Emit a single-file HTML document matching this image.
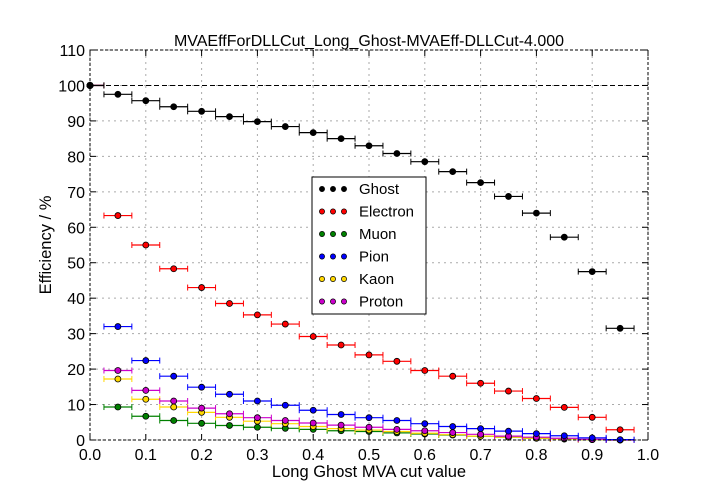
<!DOCTYPE html>
<html><head><meta charset="utf-8"><style>
body{margin:0;background:#fff;}
svg{display:block;font-family:"Liberation Sans","DejaVu Sans",sans-serif;}
</style></head><body>
<svg id="chart" width="720" height="504" viewBox="0 0 720 504" xmlns="http://www.w3.org/2000/svg">
<rect width="720" height="504" fill="#fff"/>
<text x="369" y="46" text-anchor="middle" font-size="16">MVAEffForDLLCut_Long_Ghost-MVAEff-DLLCut-4.000</text>
<text x="369" y="477" text-anchor="middle" font-size="16.5">Long Ghost MVA cut value</text>
<text transform="translate(51,245) rotate(-90)" text-anchor="middle" font-size="16.5">Efficiency / %</text>
<g id="grid"></g>
<g id="ticks"></g>
<g id="series"></g>
<rect x="90" y="50" width="558" height="390" fill="none" stroke="#000" stroke-dasharray="3,2"/>
<g id="legend">
<rect x="312" y="177" width="114" height="137" fill="#fff" stroke="#000"/>
</g>
</svg>
<script>
const xs=[0,0.05,0.1,0.15,0.2,0.25,0.3,0.35,0.4,0.45,0.5,0.55,0.6,0.65,0.7,0.75,0.8,0.85,0.9,0.95];
const ghost=[100,97.5,95.7,94,92.7,91.2,89.8,88.4,86.7,85,83,80.8,78.5,75.7,72.6,68.7,64,57.2,47.5,31.5];
const electron=[100,63.3,55,48.3,43,38.5,35.3,32.7,29.2,26.8,24,22.2,19.6,18,16,13.8,11.7,9.2,6.4,2.9];
const muon=[100,9.3,6.7,5.5,4.7,4.1,3.6,3.3,3.0,2.6,2.4,2.0,1.7,1.4,1.1,0.8,0.5,0.3,0.1,0];
const pion=[100,32,22.4,18,14.9,12.9,11,9.8,8.4,7.2,6.3,5.5,4.6,3.8,3.2,2.5,1.8,1.2,0.6,0.1];
const kaon=[100,17.2,11.5,9.3,7.8,6.4,5.3,4.6,3.8,3.2,2.8,2.4,1.9,1.5,1.1,0.8,0.5,0.3,0.1,0];
const proton=[100,19.6,14,11,9,7.4,6.3,5.5,4.8,4.2,3.6,3.0,2.6,2.1,1.6,1.1,0.8,0.5,0.2,0];
const names=["Ghost","Electron","Muon","Pion","Kaon","Proton"];
const colors=["#000","#f00","#008000","#00f","#ffd700","#c0c"];
const xTicks=[0,0.1,0.2,0.3,0.4,0.5,0.6,0.7,0.8,0.9,1.0];
const yTicks=[0,10,20,30,40,50,60,70,80,90,100,110];
const NS="http://www.w3.org/2000/svg";
const X=v=>90+v*558, Y=v=>440-v*390/110;
function mk(p,t,a){const e=document.createElementNS(NS,t);for(const k in a)e.setAttribute(k,a[k]);p.appendChild(e);return e;}
const grid=document.getElementById('grid'),ticks=document.getElementById('ticks'),ser=document.getElementById('series');
xTicks.forEach(t=>{
 const l=mk(grid,'line',{x1:X(t),x2:X(t),y1:50,y2:440,stroke:'#aaa','stroke-dasharray':'2,4'});
 
 mk(ticks,'line',{x1:X(t),x2:X(t),y1:440,y2:434,stroke:'#000'});
 mk(ticks,'line',{x1:X(t),x2:X(t),y1:50,y2:56,stroke:'#000'});
 const tx=mk(ticks,'text',{x:X(t),y:460,'text-anchor':'middle','font-size':16});
 tx.textContent=t.toFixed(1);
 
});
yTicks.forEach(t=>{
 const l=mk(grid,'line',{x1:90,x2:648,y1:Y(t),y2:Y(t),stroke:'#aaa','stroke-dasharray':'2,4'});
 
 mk(ticks,'line',{x1:90,x2:96,y1:Y(t),y2:Y(t),stroke:'#000'});
 mk(ticks,'line',{x1:642,x2:648,y1:Y(t),y2:Y(t),stroke:'#000'});
 const tx=mk(ticks,'text',{x:85,y:Y(t)+6,'text-anchor':'end','font-size':16});
 tx.textContent=t;
 
});
const ref=mk(grid,'line',{x1:90,x2:648,y1:Y(100),y2:Y(100),stroke:'#000','stroke-dasharray':'5,3'});

const data=[ghost,electron,muon,pion,kaon,proton];
[2,4,5,3,1,0].forEach(si=>{
 const g=mk(ser,'g',{});
 
 
 data[si].forEach((v,i)=>{
  const x=xs[i];const x0=Math.max(0,x-0.025),x1=x+0.025;
  const c=colors[si];
  mk(g,'line',{x1:X(x0),x2:X(x1),y1:Y(v),y2:Y(v),stroke:c,'stroke-width':1.2});
  mk(g,'line',{x1:X(x1),x2:X(x1),y1:Y(v)-3,y2:Y(v)+3,stroke:c});
  if(x0>0)mk(g,'line',{x1:X(x0),x2:X(x0),y1:Y(v)-3,y2:Y(v)+3,stroke:c});
  const p=mk(g,'circle',{cx:X(x),cy:Y(v),r:3,fill:c,stroke:'#000','stroke-width':0.8});
  
  
 });
});
const lg=document.getElementById('legend');
names.forEach((n,i)=>{
 const y=189+i*22.5;
 const e=mk(lg,'g',{});
 
 
 [322,333,344].forEach(cx=>mk(e,'circle',{cx:cx,cy:y,r:2.6,fill:colors[i],stroke:'#000','stroke-width':0.7}));
 const t=mk(e,'text',{x:359,y:y+5,'font-size':15});t.textContent=n;
});
</script>
</body></html>
